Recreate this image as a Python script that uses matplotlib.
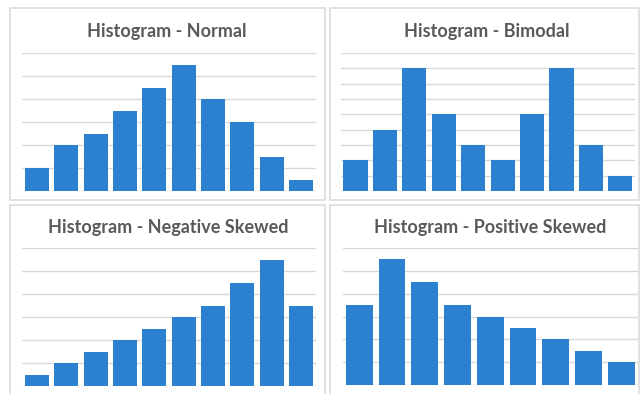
import numpy as np
import matplotlib
matplotlib.use('Agg')
from matplotlib import pyplot as plt
from matplotlib.patches import Rectangle

# bar heights for each histogram shape
normal = [1, 2, 2.5, 3.5, 4.5, 5.5, 4, 3, 1.5, 0.5]
bimodal = [2, 4, 8, 5, 3, 2, 5, 8, 3, 1]
negative_skewed = [0.5, 1, 1.5, 2, 2.5, 3, 3.5, 4.5, 5.5, 3.5]
positive_skewed = [3.5, 5.5, 4.5, 3.5, 3, 2.5, 2, 1.5, 1]

titles = ['Histogram - Normal', 'Histogram - Bimodal',
          'Histogram - Negative Skewed', 'Histogram - Positive Skewed']

W, H = 642, 394
bar_color = '#2b80cf'
grid_color = '#d9d9d9'
title_color = '#595959'

fig = plt.figure(figsize=(W / 100, H / 100), dpi=100)
fig.patch.set_facecolor('white')


def px_box(x0, y0, x1, y1):
    # pixel box (top-left origin) -> figure fraction [left, bottom, w, h]
    return [x0 / W, 1 - y1 / H, (x1 - x0) / W, (y1 - y0) / H]


# panel frames, kept behind the axes
for x0, y0, x1, y1 in [(10, 8, 325, 200), (330, 8, 639, 200),
                       (10, 205, 325, 400), (330, 205, 639, 400)]:
    l, b, w, h = px_box(x0, y0, x1, y1)
    fig.add_artist(Rectangle((l, b), w, h, transform=fig.transFigure,
                             facecolor='white', edgecolor='#dcdcdc', lw=1.2,
                             zorder=-5))

panels = [
    (normal, 6, (22.5, 53, 315.5, 191), (167, 32)),
    (bimodal, 9, (340.8, 53, 635, 191), (487, 32)),
    (negative_skewed, 6, (22.5, 248, 315.5, 386), (168, 228)),
    (positive_skewed, 6, (343, 248, 637.5, 385), (490, 228)),
]

for (vals, top, box, tpos), title in zip(panels, titles):
    ax = fig.add_axes(px_box(*box))
    x = np.arange(len(vals))
    ax.bar(x, vals, width=0.82, color=bar_color, zorder=3)
    ax.set_xlim(-0.5, len(vals) - 0.5)
    ax.set_ylim(0, top)
    ax.set_yticks(np.arange(1, top + 1))
    ax.grid(axis='y', color=grid_color, lw=1, zorder=0)
    ax.axhline(0, color=grid_color, lw=1, zorder=0)
    ax.tick_params(left=False, bottom=False, labelleft=False, labelbottom=False)
    for s in ax.spines.values():
        s.set_visible(False)
    ax.patch.set_alpha(0)
    fig.text(tpos[0] / W, 1 - tpos[1] / H, title, ha='center', va='center',
             fontsize=13, fontweight='bold', family='Lato', color=title_color)

plt.savefig('out.png', dpi=100)
